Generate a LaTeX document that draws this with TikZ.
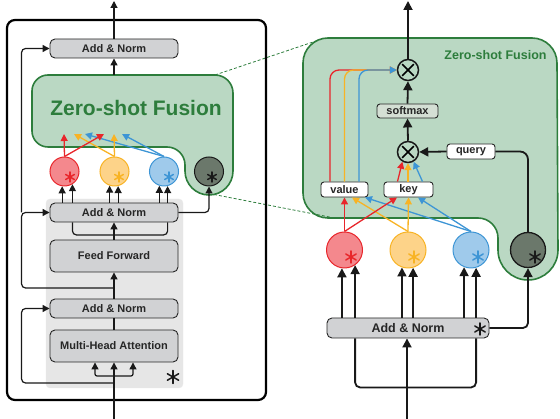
\documentclass[tikz,border=0pt]{standalone}
\usepackage{fontspec}
\setmainfont{Liberation Sans}
\usetikzlibrary{arrows.meta,calc}

\definecolor{boxgray}{HTML}{D1D2D4}
\definecolor{blockgray}{HTML}{E6E6E6}
\definecolor{zsfill}{HTML}{BAD8C3}
\definecolor{zsgreen}{HTML}{2D7D3C}
\definecolor{smfill}{HTML}{D4DFD4}
\definecolor{cred}{HTML}{E8262B}
\definecolor{credf}{HTML}{F4888D}
\definecolor{cyel}{HTML}{F8B324}
\definecolor{cyelf}{HTML}{FDD389}
\definecolor{cblu}{HTML}{3D95D5}
\definecolor{cbluf}{HTML}{9FCAEB}
\definecolor{cdark}{HTML}{6B786B}

% asterisk mark: position, colour, half size
\newcommand{\astk}[3]{\foreach \a in {90,30,150}{\draw[#2,line width=1.5pt,line cap=round] (#1) +(\a:#3) -- +(\a+180:#3);}}

\tikzset{
  box/.style={draw=black!85, fill=boxgray, rounded corners=5pt, line width=0.9pt, minimum width=128pt, minimum height=19pt, inner sep=0pt, text=black!85, font=\bfseries\fontsize{11}{13}\selectfont},
  tag/.style={draw=black!85, fill=white, rounded corners=3pt, line width=0.9pt, minimum height=15pt, inner sep=0pt, text=black!85, font=\bfseries\fontsize{11}{13}\selectfont},
  feat/.style={circle, line width=1pt, inner sep=0pt, minimum size=29pt},
  mult/.style={circle, draw=black!90, line width=1.5pt, minimum size=21pt, inner sep=0pt},
  ln/.style={line width=1.2pt, draw=black!90, rounded corners=4pt},
  arr/.style={ln, -{Triangle[length=7pt,width=7pt]}},
  bigarr/.style={line width=1.8pt, draw=black!90, rounded corners=5pt, -{Triangle[length=9pt,width=9pt]}},
  carr/.style={line width=1.3pt, -{Triangle[length=7pt,width=7pt]}},
  zsf/.style={fill=zsfill, draw=zsgreen, line width=1.6pt},
  link/.style={draw=zsgreen, line width=0.8pt, dash pattern=on 3pt off 2pt},
}

\begin{document}
\begin{tikzpicture}[x=1pt,y=-1pt]
    \useasboundingbox (0,0) rectangle (560,419);

    % background shapes
    \fill[blockgray, draw=black!8, rounded corners=4pt] (46,199) rectangle (183,388);
    \draw[zsf] (48,75) -- (215,75) arc[start angle=90,end angle=0,radius=18pt]
        -- (233,171) arc[start angle=0,end angle=-180,radius=24pt]
        -- (185,165) arc[start angle=0,end angle=90,radius=18pt]
        -- (48,147) arc[start angle=-90,end angle=-180,radius=16pt]
        -- (32,91) arc[start angle=180,end angle=90,radius=16pt] -- cycle;
    \draw[zsf] (328,38) -- (532,38) arc[start angle=90,end angle=0,radius=25pt]
        -- (558,250) arc[start angle=0,end angle=-180,radius=30pt]
        -- (498,238) arc[start angle=0,end angle=90,radius=20pt]
        -- (328,218) arc[start angle=-90,end angle=-180,radius=25pt]
        -- (303,63) arc[start angle=180,end angle=90,radius=25pt] -- cycle;

    \coordinate (lk1a) at (215,75);
    \coordinate (lk1b) at (316,41);
    \coordinate (lk2a) at (214,194.5);
    \coordinate (lk2b) at (332,217.5);
    \draw[link] (lk1a) -- (lk1b);
    \draw[link] (lk2a) -- (lk2b);

    \draw[line width=2.2pt, rounded corners=8pt] (7,20) rectangle (266,400);

    % left panel
    \node[box] (an1) at (114,48.5) {Add \& Norm};
    \node[text=zsgreen, font=\bfseries\fontsize{21}{25}\selectfont] (zs1) at (136,108) {Zero-shot Fusion};
    \node[box] (an2) at (114,212.5) {Add \& Norm};
    \node[box, minimum height=32pt] (ff) at (114,256) {Feed Forward};
    \node[box] (an3) at (114,308.5) {Add \& Norm};
    \node[box, minimum height=32pt] (mha) at (114,346) {Multi-Head Attention};

    \node[feat, draw=cred, fill=credf] (rc1) at (64.5,171.5) {};
    \node[feat, draw=cyel, fill=cyelf] (yc1) at (114.5,171.5) {};
    \node[feat, draw=cblu, fill=cbluf] (bc1) at (164,171.5) {};
    \node[feat, draw=black!90, fill=cdark] (dc1) at (209,171.5) {};
    \astk{[shift={(5.5,5.5)}]rc1}{cred}{5pt}
    \astk{[shift={(4.5,5.5)}]yc1}{cyel}{5pt}
    \astk{[shift={(5,5.5)}]bc1}{cblu}{5pt}
    \astk{[shift={(3,5.5)}]dc1}{black!90}{5pt}
    \astk{173,377}{black!90}{6.5pt}

    \coordinate (in1) at (114,419);
    \coordinate (out1) at (114,1);
    \coordinate (zf1) at (114,75);
    \coordinate (br1) at (114,376);
    \coordinate (res1) at (114,383);
    \coordinate (res2) at (114,288);

    \draw[arr] (in1) -- (mha.south);
    \draw[arr, rounded corners=2pt] (br1) -| ([xshift=-19pt]mha.south);
    \draw[arr, rounded corners=2pt] (br1) -| ([xshift=19pt]mha.south);
    \draw[arr] (res1) -| ([xshift=-28pt]an3.west) -- (an3.west);
    \draw[ln] (mha.north) -- (an3.south);
    \draw[arr] (an3.north) -- (ff.south);
    \draw[arr] (res2) -| ([xshift=-28pt]an2.west) -- (an2.west);
    \draw[arr] ([xshift=-28pt]an2.west) |- (an1.west);
    \draw[arr] (ff.north) -- (an2.south);
    \draw[ln] (an2.south -| rc1.302) -- ++(0,12.5) -| (an2.south -| bc1.284);
    \draw[arr] (zf1) -- (an1.south);
    \draw[arr] (an1.north) -- (out1);

    \draw[arr] (an2.north -| rc1.261) -- (rc1.261);
    \draw[arr] (an2.north -| rc1.302) -- (rc1.302);
    \draw[arr] (an2.north -| yc1.251) -- (yc1.251);
    \draw[arr] (an2.north -| yc1.284) -- (yc1.284);
    \draw[arr] (an2.north -| bc1.252) -- (bc1.252);
    \draw[arr] (an2.north -| bc1.284) -- (bc1.284);
    \draw[arr] (an2.east) -| (dc1.south);

    \coordinate (tr1) at (64,134);
    \coordinate (tr2) at (104,134);
    \coordinate (ty1) at (74,134);
    \coordinate (ty2) at (114,134);
    \coordinate (tb1) at (85,134);
    \coordinate (tb2) at (122,134);
    \draw[carr, cblu] (bc1.north) -- (tb1);
    \draw[carr, cblu] (bc1.north) -- (tb2);
    \draw[carr, cyel] (yc1.north) -- (ty1);
    \draw[carr, cyel] (yc1.north) -- (ty2);
    \draw[carr, cred] (rc1.north) -- (tr1);
    \draw[carr, cred] (rc1.north) -- (tr2);

    % right panel
    \node[text=zsgreen, font=\bfseries\fontsize{12.5}{15}\selectfont] (zs2) at (495.5,55) {Zero-shot Fusion};
    \node[mult] (mul2) at (408,70) {};
    \node[tag, fill=smfill, minimum width=61pt, minimum height=14pt] (smx) at (407.5,111) {softmax};
    \node[mult] (mul1) at (408,152) {};
    \node[tag, minimum width=48pt] (qry) at (471,151.5) {query};
    \node[tag, minimum width=47pt] (val) at (344.5,189.5) {value};
    \node[tag, minimum width=49pt] (key) at (408.5,189.5) {key};
    \foreach \m in {mul1,mul2}{
        \draw[line width=1.6pt, shorten >=3pt, shorten <=3pt] (\m.45) -- (\m.225);
        \draw[line width=1.6pt, shorten >=3pt, shorten <=3pt] (\m.135) -- (\m.315);
    }

    \node[feat, minimum size=36pt, draw=cred, fill=credf] (rc2) at (344.5,250) {};
    \node[feat, minimum size=36pt, draw=cyel, fill=cyelf] (yc2) at (408,250) {};
    \node[feat, minimum size=36pt, draw=cblu, fill=cbluf] (bc2) at (471,250) {};
    \node[feat, minimum size=35pt, line width=1.3pt, draw=black!90, fill=cdark] (dc2) at (528,250) {};
    \astk{[shift={(6.5,7)}]rc2}{cred}{6pt}
    \astk{[shift={(6,7)}]yc2}{cyel}{6pt}
    \astk{[shift={(7,7)}]bc2}{cblu}{6pt}
    \astk{[shift={(7,7)}]dc2}{black!90}{6pt}

    \node[box, minimum width=162pt, minimum height=20pt, font=\bfseries\fontsize{12.5}{15}\selectfont] (an4) at (408,328) {Add \& Norm};
    \astk{480,329}{black!90}{6pt}

    \coordinate (in2) at (407,419);
    \coordinate (out2) at (408,1);

    \draw[bigarr] (in2) -- (an4.south -| in2);
    \draw[line width=1.8pt, draw=black!90, rounded corners=5pt] (an4.south -| rc2.305) -- ++(0,49) -| (an4.south -| bc2.286);
    \draw[bigarr] (an4.north -| rc2.262) -- (rc2.262);
    \draw[bigarr] (an4.north -| rc2.305) -- (rc2.305);
    \draw[bigarr] (an4.north -| yc2.251) -- (yc2.251);
    \draw[bigarr] (an4.north -| yc2.286) -- (yc2.286);
    \draw[bigarr] (an4.north -| bc2.248) -- (bc2.248);
    \draw[bigarr] (an4.north -| bc2.286) -- (bc2.286);
    \draw[bigarr] (an4.east) -| (dc2.south);
    \draw[line width=1.8pt, draw=black!90, rounded corners=8pt] (dc2.north) |- (qry.east);
    \draw[bigarr] (qry.west) -- (mul1.east);
    \draw[bigarr] (mul1.north) -- (smx.south);
    \draw[bigarr] (smx.north) -- (mul2.south);
    \draw[bigarr] (mul2.north) -- (out2);

    \draw[carr, cblu] (bc2.north) -- ([xshift=20.5pt]val.south);
    \draw[carr, cblu] (bc2.north) -- ([xshift=9.5pt]key.south);
    \draw[carr, cyel] (yc2.north) -- ([xshift=7.5pt]val.south);
    \draw[carr, cyel] (yc2.north) -- (key.south);
    \draw[carr, cred] (rc2.north) -- (val.south);
    \draw[carr, cred] (rc2.north) -- ([xshift=-11.5pt]key.south);

    \draw[carr, cred, rounded corners=9pt] ([xshift=-14.5pt]val.north) |- (mul2.west);
    \draw[carr, cyel, rounded corners=9pt] (val.north) |- (mul2.west);
    \draw[carr, cblu, rounded corners=9pt] ([xshift=14.5pt]val.north) |- (mul2.west);
    \draw[carr, cred] ([xshift=-11pt]key.north) -- (mul1.240);
    \draw[carr, cyel] (key.north -| mul1) -- (mul1.south);
    \draw[carr, cblu] ([xshift=14pt]key.north) -- (mul1.300);
\end{tikzpicture}
\end{document}
